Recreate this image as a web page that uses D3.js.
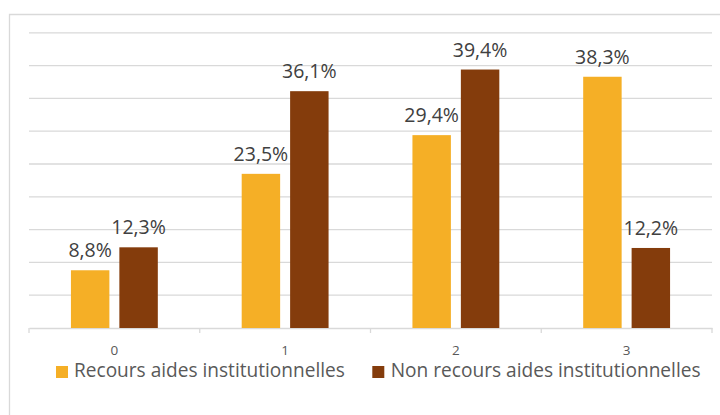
<!DOCTYPE html>
<html><head><meta charset="utf-8">
<script src="https://cdn.jsdelivr.net/npm/d3@7"></script>
<style>body{margin:0;background:#fff}svg{display:block}</style>
</head><body>
<svg id="c" width="720" height="415"></svg>
<script>
const categories = ["0", "1", "2", "3"];
const seriesNames = ["Recours aides institutionnelles", "Non recours aides institutionnelles"];
const recours = [8.8, 23.5, 29.4, 38.3];
const nonRecours = [12.3, 36.1, 39.4, 12.2];
const yTicks = [0, 5, 10, 15, 20, 25, 30, 35, 40, 45];
const colors = ["#F5AF26", "#843C0C"];

(function () {
const svg = d3.select("#c");
const font = "'Open Sans', sans-serif";
const pLeft = 29, pRight = 712, pTop = 32.8, pBottom = 328;

// outer border (cropped right/bottom)
svg.append("path").attr("d", "M9.5,415 V14.5 H720").attr("fill", "none").attr("stroke", "#d9d9d9").attr("stroke-width", 1.3);

const x = d3.scaleBand().domain(categories).range([pLeft, pRight]).paddingInner(0).paddingOuter(0);
const y = d3.scaleLinear().domain([0, 45]).range([pBottom, pTop]);
const xs = d3.scaleBand().domain([0, 1]).range([0, x.bandwidth()]).paddingInner(0.206).paddingOuter(0.866);

// gridlines
svg.append("g").selectAll("line").data(yTicks.filter(d => d > 0)).join("line")
  .attr("x1", pLeft).attr("x2", pRight).attr("y1", d => y(d)).attr("y2", d => y(d))
  .attr("stroke", "#d9d9d9").attr("stroke-width", 1.3);

// x axis
const xAxis = svg.append("g").attr("transform", `translate(0,${pBottom})`)
  .call(d3.axisBottom(x).tickSize(0).tickPadding(0));
xAxis.select(".domain").attr("stroke", "#d9d9d9").attr("stroke-width", 1.3);
xAxis.selectAll(".tick text").remove();
const bounds = categories.map(c => x(c)).concat([pRight]);
svg.append("g").selectAll("line").data(bounds).join("line")
  .attr("x1", d => d).attr("x2", d => d).attr("y1", pBottom).attr("y2", pBottom + 5)
  .attr("stroke", "#d9d9d9").attr("stroke-width", 1.3);
svg.append("g").selectAll("text").data(categories).join("text")
  .attr("x", d => x(d) + x.bandwidth() / 2).attr("y", 354.5)
  .attr("text-anchor", "middle").attr("font-family", font).attr("font-size", 13.5)
  .attr("fill", "#595959").text(d => d);

const series = [recours, nonRecours];
const fmt = v => v.toFixed(1).replace(".", ",") + "%";
series.forEach((vals, si) => {
  const g = svg.append("g");
  g.selectAll("rect").data(vals).join("rect")
    .attr("x", (d, i) => x(categories[i]) + xs(si)).attr("width", xs.bandwidth())
    .attr("y", d => y(d)).attr("height", d => y(0) - y(d)).attr("fill", colors[si]);
  g.selectAll("text").data(vals).join("text")
    .attr("x", (d, i) => x(categories[i]) + xs(si) + xs.bandwidth() / 2)
    .attr("y", d => y(d) - 13).attr("text-anchor", "middle")
    .attr("font-family", font).attr("font-size", 19.5).attr("fill", "#404040")
    .text(fmt);
});

// legend
const legendItems = [{sx: 56, tx: 74, w: 271}, {sx: 372.3, tx: 390.7, w: 310}];
legendItems.forEach((it, i) => {
  svg.append("rect").attr("x", it.sx).attr("y", 366).attr("width", 12).attr("height", 12).attr("fill", colors[i]);
  const t = svg.append("text").attr("x", it.tx).attr("y", 377).attr("font-family", font)
    .attr("font-size", 18).attr("fill", "#595959").text(seriesNames[i]);
  const len = t.node().getComputedTextLength();
  t.attr("font-size", 18 * it.w / len);
});
})();
</script>
</body></html>
